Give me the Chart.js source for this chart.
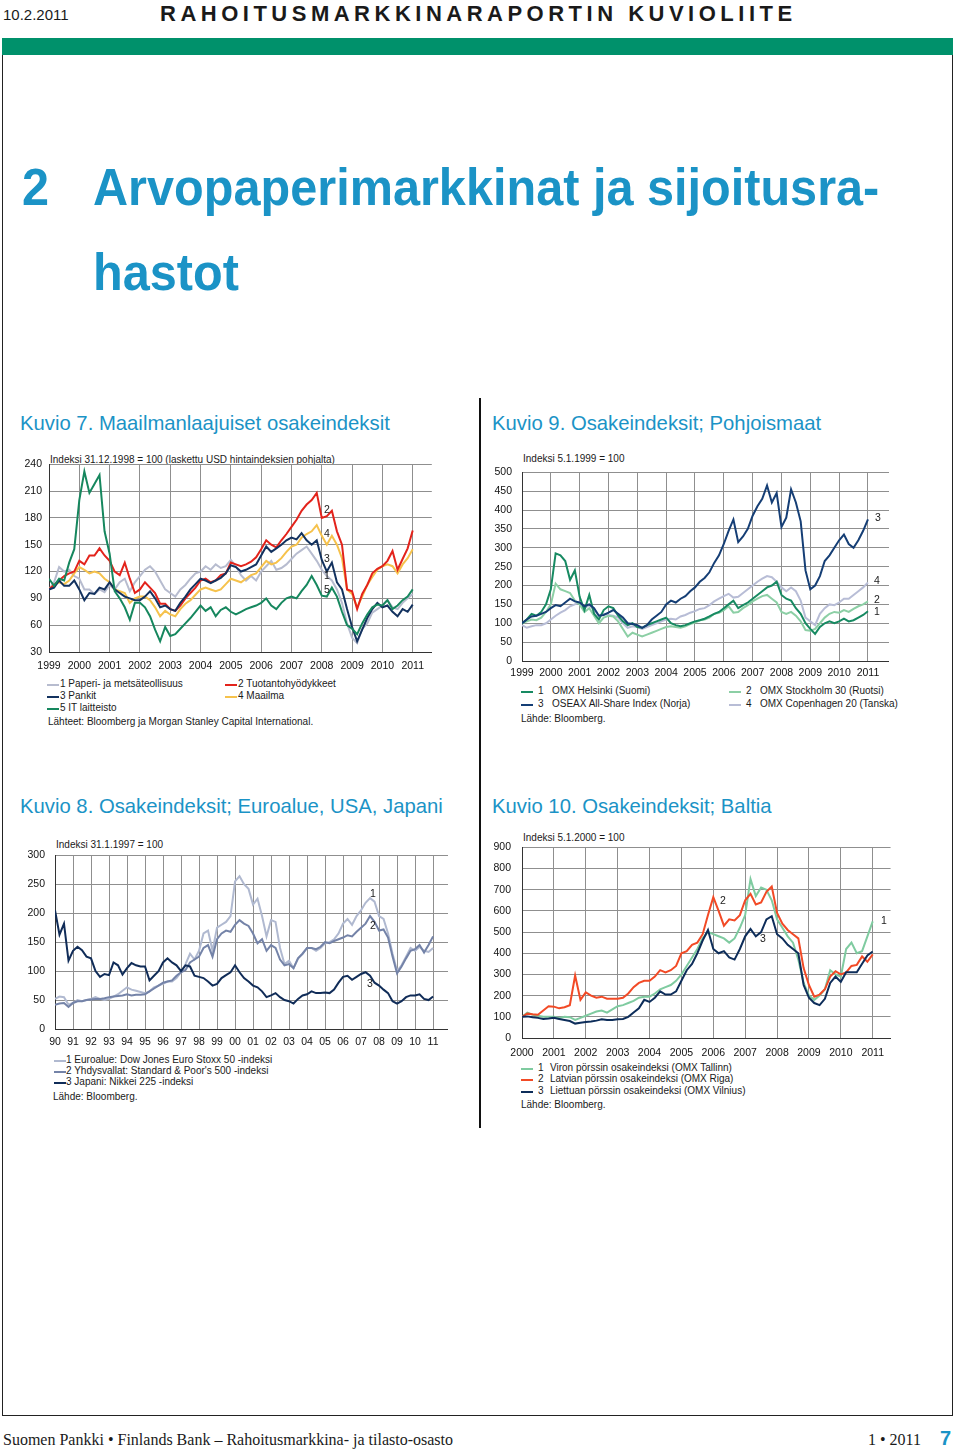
<!DOCTYPE html>
<html lang="fi">
<head>
<meta charset="utf-8">
<title>Rahoitusmarkkinaraportin kuvioliite</title>
<script src="https://cdn.jsdelivr.net/npm/chart.js@4.4.1/dist/chart.umd.min.js"></script>
<style>
  html, body { margin: 0; padding: 0; background: #fff; }
  body { width: 960px; height: 1450px; position: relative; overflow: hidden;
         font-family: 'Liberation Sans', Arial, sans-serif; color: #1a1a1a; }
  .abs { position: absolute; white-space: nowrap; }
  .blue { color: #1b93c6; }
  .head { font-weight: bold; font-size: 52px; line-height: 52px; transform: scaleX(0.935); transform-origin: 0 0; }
  .kuvio { font-size: 20.3px; line-height: 24px; }
  .idx { font-size: 10px; line-height: 12px; }
  .lg { font-size: 10px; line-height: 12px; }
  .sw { position: absolute; width: 12px; height: 2px; }
  .tag { font-size: 10.5px; line-height: 12px; transform: translate(-50%, -50%); }
  canvas { position: absolute; }
</style>
</head>
<body>

<!-- page header -->
<div class="abs" style="left:3px; top:6px; font-size:15px; line-height:18px;">10.2.2011</div>
<div class="abs" style="left:160px; top:2px; font-size:22px; line-height:24px; font-weight:bold; letter-spacing:4.5px;">RAHOITUSMARKKINARAPORTIN KUVIOLIITE</div>
<div class="abs" style="left:2px; top:38px; width:951px; height:17px; background:#00916b;"></div>
<div class="abs" style="left:2px; top:55px; width:949px; height:1360px; border:1px solid #222; border-top:none;"></div>

<div class="abs head blue" style="left:22px; top:161px;">2</div>
<div class="abs head blue" style="left:93px; top:161px;">Arvopaperimarkkinat ja sijoitusra-</div>
<div class="abs head blue" style="left:93px; top:246px;">hastot</div>

<div class="abs" style="left:479px; top:398px; width:2px; height:730px; background:#111;"></div>

<!-- Kuvio 7 -->
<div class="abs kuvio blue" style="left:20px; top:411px;">Kuvio 7. Maailmanlaajuiset osakeindeksit</div>
<div class="abs idx" style="left:50px; top:454px;">Indeksi 31.12.1998 = 100 (laskettu USD hintaindeksien pohjalta)</div>
<canvas id="k7" width="423" height="225" style="left:9px; top:451px;"></canvas>
<div class="abs tag" style="left:327px; top:509px;">2</div>
<div class="abs tag" style="left:327px; top:533px;">4</div>
<div class="abs tag" style="left:327px; top:558px;">3</div>
<div class="abs tag" style="left:327px; top:575px;">1</div>
<div class="abs tag" style="left:327px; top:589px;">5</div>
<div class="sw" style="left:47px; top:684px; background:#b7bccf;"></div>
<div class="abs lg" style="left:60px; top:678px;">1 Paperi- ja metsäteollisuus</div>
<div class="sw" style="left:225px; top:684px; background:#e3231b;"></div>
<div class="abs lg" style="left:238px; top:678px;">2 Tuotantohyödykkeet</div>
<div class="sw" style="left:47px; top:696px; background:#13325f;"></div>
<div class="abs lg" style="left:60px; top:690px;">3 Pankit</div>
<div class="sw" style="left:225px; top:696px; background:#f6c24c;"></div>
<div class="abs lg" style="left:238px; top:690px;">4 Maailma</div>
<div class="sw" style="left:47px; top:708px; background:#16875e;"></div>
<div class="abs lg" style="left:60px; top:702px;">5 IT laitteisto</div>
<div class="abs lg" style="left:48px; top:716px;">Lähteet: Bloomberg ja Morgan Stanley Capital International.</div>

<!-- Kuvio 9 -->
<div class="abs kuvio blue" style="left:492px; top:411px;">Kuvio 9. Osakeindeksit; Pohjoismaat</div>
<div class="abs idx" style="left:523px; top:453px;">Indeksi 5.1.1999 = 100</div>
<canvas id="k9" width="407" height="229" style="left:482px; top:456px;"></canvas>
<div class="abs tag" style="left:878px; top:517px;">3</div>
<div class="abs tag" style="left:877px; top:580px;">4</div>
<div class="abs tag" style="left:877px; top:599px;">2</div>
<div class="abs tag" style="left:877px; top:611px;">1</div>
<div class="sw" style="left:521px; top:691px; background:#178a62;"></div>
<div class="abs lg" style="left:538px; top:685px;">1</div>
<div class="abs lg" style="left:552px; top:685px;">OMX Helsinki (Suomi)</div>
<div class="sw" style="left:729px; top:691px; background:#8ccfa5;"></div>
<div class="abs lg" style="left:746px; top:685px;">2</div>
<div class="abs lg" style="left:760px; top:685px;">OMX Stockholm 30 (Ruotsi)</div>
<div class="sw" style="left:521px; top:704px; background:#153e75;"></div>
<div class="abs lg" style="left:538px; top:698px;">3</div>
<div class="abs lg" style="left:552px; top:698px;">OSEAX All-Share Index (Norja)</div>
<div class="sw" style="left:729px; top:704px; background:#b8bdd6;"></div>
<div class="abs lg" style="left:746px; top:698px;">4</div>
<div class="abs lg" style="left:760px; top:698px;">OMX Copenhagen 20 (Tanska)</div>
<div class="abs lg" style="left:521px; top:713px;">Lähde: Bloomberg.</div>

<!-- Kuvio 8 -->
<div class="abs kuvio blue" style="left:20px; top:794px;">Kuvio 8. Osakeindeksit; Euroalue, USA, Japani</div>
<div class="abs idx" style="left:56px; top:839px;">Indeksi 31.1.1997 = 100</div>
<canvas id="k8" width="433" height="214" style="left:15px; top:839px;"></canvas>
<div class="abs tag" style="left:373px; top:893px;">1</div>
<div class="abs tag" style="left:373px; top:925px;">2</div>
<div class="abs tag" style="left:370px; top:983px;">3</div>
<div class="sw" style="left:54px; top:1060px; background:#b0b9d0;"></div>
<div class="abs lg" style="left:66px; top:1054px;">1 Euroalue: Dow Jones Euro Stoxx 50 -indeksi</div>
<div class="sw" style="left:54px; top:1071px; background:#7483a8;"></div>
<div class="abs lg" style="left:66px; top:1065px;">2 Yhdysvallat: Standard &amp; Poor's 500 -indeksi</div>
<div class="sw" style="left:54px; top:1082px; background:#102c58;"></div>
<div class="abs lg" style="left:66px; top:1076px;">3 Japani: Nikkei 225 -indeksi</div>
<div class="abs lg" style="left:53px; top:1091px;">Lähde: Bloomberg.</div>

<!-- Kuvio 10 -->
<div class="abs kuvio blue" style="left:492px; top:794px;">Kuvio 10. Osakeindeksit; Baltia</div>
<div class="abs idx" style="left:523px; top:832px;">Indeksi 5.1.2000 = 100</div>
<canvas id="k10" width="411" height="232" style="left:482px; top:830px;"></canvas>
<div class="abs tag" style="left:723px; top:900px;">2</div>
<div class="abs tag" style="left:763px; top:938px;">3</div>
<div class="abs tag" style="left:884px; top:920px;">1</div>
<div class="sw" style="left:521px; top:1068px; background:#7fcba0;"></div>
<div class="abs lg" style="left:538px; top:1062px;">1</div>
<div class="abs lg" style="left:550px; top:1062px;">Viron pörssin osakeindeksi (OMX Tallinn)</div>
<div class="sw" style="left:521px; top:1079px; background:#f24a26;"></div>
<div class="abs lg" style="left:538px; top:1073px;">2</div>
<div class="abs lg" style="left:550px; top:1073px;">Latvian pörssin osakeindeksi (OMX Riga)</div>
<div class="sw" style="left:521px; top:1091px; background:#0d2d5a;"></div>
<div class="abs lg" style="left:538px; top:1085px;">3</div>
<div class="abs lg" style="left:550px; top:1085px;">Liettuan pörssin osakeindeksi (OMX Vilnius)</div>
<div class="abs lg" style="left:521px; top:1099px;">Lähde: Bloomberg.</div>

<!-- footer -->
<div class="abs" style="left:3px; top:1431px; font-family:'Liberation Serif', 'Times New Roman', serif; font-size:16px; line-height:18px;">Suomen Pankki • Finlands Bank – Rahoitusmarkkina- ja tilasto-osasto</div>
<div class="abs" style="left:868px; top:1431px; font-family:'Liberation Serif', 'Times New Roman', serif; font-size:16px; line-height:18px;">1 • 2011</div>
<div class="abs blue" style="left:940px; top:1427px; font-size:20px; line-height:22px; font-weight:bold;">7</div>

<script>
// Sampling dates: every two months (bimonthly) or quarterly, as decimal years
function dateGrid(from, to, perYear) {
    const out = [];
    for (let y = from; y <= to; y++) {
        for (let k = 0; k < perYear; k++) {
            if (y === to && k > 0) break;
            out.push(y + k / perYear);
        }
    }
    return out;
}

// ---------- Kuvio 7: Maailmanlaajuiset osakeindeksit ----------
const k7Dates = dateGrid(1999, 2011, 6);
const k7XTicks = [1999, 2000, 2001, 2002, 2003, 2004, 2005, 2006, 2007, 2008, 2009, 2010, 2011];
const k7YTicks = [30, 60, 90, 120, 150, 180, 210, 240];
const k7Paperi = [
    100, 108, 125, 120, 122, 115,
    112, 100, 100, 95, 100, 97,
    105, 100, 108, 112, 98, 108,
    115, 122, 126, 120, 110, 100,
    96, 92, 100, 105, 112, 118,
    120, 126, 122, 128, 124, 126,
    133, 126, 116, 110, 115, 110,
    120, 126, 132, 122, 124, 128,
    134, 140, 144, 148, 140, 132,
    122, 115, 110, 100, 85, 62,
    46, 40, 56, 62, 74, 78,
    82, 88, 80, 78, 85, 90,
    95
];
const k7Tuotanto = [
    100, 105, 110, 115, 118, 120,
    132, 128, 138, 138, 146, 138,
    132, 120, 116, 130, 112, 96,
    100, 108, 102, 96, 84, 84,
    78, 76, 82, 90, 96, 102,
    110, 112, 108, 110, 116, 118,
    130, 128, 126, 128, 131, 136,
    145, 155, 150, 147, 155, 162,
    170, 178, 188, 195, 200, 208,
    180, 182, 188, 165, 150, 100,
    98, 78, 95, 105, 118, 123,
    126, 132, 143, 122, 134, 146,
    166
];
const k7Pankit = [
    100, 102, 110, 104, 104, 110,
    100, 88, 96, 95, 102, 100,
    108, 100, 96, 92, 90, 88,
    88, 92, 98, 90, 80, 82,
    78, 76, 85, 92, 100, 106,
    112, 110, 107, 110, 113, 118,
    127, 125, 120, 122, 125, 128,
    138, 148, 142, 146, 150, 155,
    158, 156, 163, 155, 150, 155,
    133, 120, 130, 108, 100, 78,
    58, 42, 55, 68, 78, 85,
    80, 82, 75, 70, 78, 75,
    83
];
const k7Maailma = [
    100, 105, 108, 106, 110, 118,
    125, 122, 118, 120, 118, 112,
    108, 100, 98, 96, 85, 90,
    92, 92, 88, 80, 70, 76,
    72, 70, 78, 84, 88, 94,
    100, 102, 100, 98, 100, 106,
    112, 110, 108, 112, 116, 118,
    125, 132, 128, 130, 135, 142,
    148, 150, 158, 162, 165, 172,
    160, 150, 160, 150, 135, 100,
    95, 80, 92, 105, 114, 122,
    126, 128, 126, 118, 128, 135,
    145
];
const k7IT = [
    112, 104, 112, 110, 130, 145,
    200, 232, 208, 218, 228, 165,
    140, 98, 90, 80, 66, 85,
    85, 80, 70, 55, 42, 58,
    48, 50, 56, 62, 68, 75,
    82, 76, 80, 70, 77, 80,
    75, 72, 75, 78, 80, 82,
    85, 90, 82, 78, 85, 90,
    92, 90, 98, 105, 115, 105,
    93, 92, 102, 92, 75, 60,
    56, 50, 62, 72, 80, 83,
    82, 88, 78, 82, 88, 92,
    100
];

// ---------- Kuvio 9: Osakeindeksit; Pohjoismaat ----------
const k9Dates = dateGrid(1999, 2011, 6);
const k9XTicks = [1999, 2000, 2001, 2002, 2003, 2004, 2005, 2006, 2007, 2008, 2009, 2010, 2011];
const k9YTicks = [0, 50, 100, 150, 200, 250, 300, 350, 400, 450, 500];
const k9Helsinki = [
    100, 110, 125, 120, 130, 150,
    190, 285, 280, 265, 215, 240,
    170, 135, 175, 125, 110, 135,
    145, 140, 120, 105, 95, 100,
    90, 88, 95, 100, 105, 110,
    115, 100, 95, 92, 95, 100,
    105, 108, 112, 118, 125, 130,
    140, 150, 160, 140, 148, 155,
    165, 175, 185, 195, 200, 210,
    175, 165, 160, 140, 125, 100,
    85, 72, 90, 100, 105, 100,
    105, 112, 105, 108, 115, 122,
    132
];
const k9Stockholm = [
    100, 105, 110, 108, 115, 130,
    150, 205, 190, 185, 180, 160,
    150, 130, 140, 120, 100, 115,
    120, 118, 105, 85, 65, 75,
    70, 65, 70, 75, 80, 85,
    90, 92, 90, 88, 92, 98,
    102, 108, 110, 115, 125, 128,
    135, 145, 128, 130, 140, 148,
    158, 165, 172, 175, 165, 155,
    130, 125, 130, 120, 105, 82,
    80, 85, 100, 115, 125, 130,
    128, 135, 130, 138, 145, 150,
    158
];
const k9Oseax = [
    100, 110, 118, 120, 125, 130,
    140, 148, 145, 155, 165, 158,
    155, 145, 150, 140, 120, 122,
    128, 135, 125, 115, 100, 98,
    95, 88, 95, 110, 120, 130,
    150, 160, 155, 165, 172, 185,
    195, 210, 220, 235, 260, 280,
    310, 345, 375, 315, 330, 350,
    385, 410, 430, 465, 420, 445,
    355, 380, 455, 420, 370, 240,
    190, 200, 225, 265, 280, 300,
    320, 335, 310, 300, 320, 345,
    375
];
const k9Copenhagen = [
    95, 88, 92, 95, 95, 100,
    110, 120, 128, 135, 145, 150,
    155, 140, 148, 135, 120, 125,
    122, 120, 115, 100, 88, 92,
    90, 85, 90, 95, 100, 105,
    110, 112, 110, 118, 122, 128,
    132, 138, 140, 148, 158, 165,
    172, 178, 168, 170, 180, 190,
    200, 210, 218, 225, 222, 210,
    195, 185, 195, 185, 160, 115,
    105, 95, 125, 140, 150, 148,
    155, 165, 165, 175, 185, 195,
    208
];

// ---------- Kuvio 8: Osakeindeksit; Euroalue, USA, Japani ----------
const k8Dates = dateGrid(1990, 2011, 4);
const k8XTicks = [1990, 1991, 1992, 1993, 1994, 1995, 1996, 1997, 1998, 1999, 2000,
                  2001, 2002, 2003, 2004, 2005, 2006, 2007, 2008, 2009, 2010, 2011];
const k8XLabels = ['90', '91', '92', '93', '94', '95', '96', '97', '98', '99', '00',
                   '01', '02', '03', '04', '05', '06', '07', '08', '09', '10', '11'];
const k8YTicks = [0, 50, 100, 150, 200, 250, 300];
const k8Euro = [
    52, 56, 55, 42,
    45, 50, 48, 50,
    52, 55, 52, 50,
    52, 56, 60, 66,
    72, 68, 66, 64,
    62, 65, 72, 75,
    78, 82, 82, 88,
    98, 112, 130, 120,
    135, 165, 170, 135,
    175, 180, 185, 195,
    255, 264, 250, 242,
    215, 225, 195, 160,
    188, 185, 140, 112,
    118, 105, 122, 130,
    140, 140, 135, 140,
    148, 150, 155, 165,
    182, 190, 180, 195,
    205, 218, 226, 220,
    195, 190, 165, 130,
    100, 110, 125, 140,
    135, 142, 135, 133,
    140
];
const k8Usa = [
    42, 44, 45, 38,
    45, 48, 48, 50,
    51, 52, 52, 53,
    55, 56, 57, 58,
    60, 58, 59, 59,
    60, 65, 70, 75,
    80, 82, 84, 92,
    98, 102, 115, 120,
    125, 140, 145, 125,
    155, 165, 170, 168,
    180, 188, 182, 178,
    165, 148, 155, 135,
    145, 140, 120, 110,
    112, 105, 122, 130,
    140, 140, 138, 142,
    150, 148, 152, 155,
    158, 162, 160, 168,
    175, 182, 195, 185,
    170, 172, 158, 125,
    96, 108, 122, 135,
    138, 145, 132, 145,
    160
];
const k8Japani = [
    205, 163, 182, 118,
    135, 142, 136, 125,
    122, 100, 90, 95,
    93, 115, 110, 94,
    105, 114, 110, 108,
    108, 84, 92, 100,
    115, 122, 115, 110,
    100, 110, 108, 92,
    90, 88, 82, 75,
    78, 88, 93, 98,
    110, 98, 88, 82,
    75, 72, 65, 55,
    58, 62, 55, 50,
    48, 44, 52, 58,
    60, 65, 62, 62,
    63, 62, 68, 80,
    90, 92, 85, 90,
    95, 98, 92, 80,
    75, 68, 62, 48,
    44, 48, 55, 58,
    58, 60, 52, 50,
    56
];

// ---------- Kuvio 10: Osakeindeksit; Baltia ----------
const k10Dates = dateGrid(2000, 2011, 6);
const k10XTicks = [2000, 2001, 2002, 2003, 2004, 2005, 2006, 2007, 2008, 2009, 2010, 2011];
const k10YTicks = [0, 100, 200, 300, 400, 500, 600, 700, 800, 900];
const k10Tallinn = [
    100, 120, 110, 105, 100, 100,
    100, 95, 100, 98, 85, 95,
    105, 115, 125, 130, 120, 135,
    150, 155, 165, 175, 190, 195,
    195, 210, 230, 240, 250, 270,
    300, 340, 380, 420, 470, 500,
    490, 480, 470, 450, 470, 520,
    580, 750, 670, 710, 700, 650,
    560, 520, 480, 450, 370, 260,
    200, 180, 200, 230, 320, 300,
    290, 420, 450, 400, 410, 480,
    550
];
const k10Riga = [
    100, 115, 112, 110, 130, 150,
    148, 140, 145, 155, 295, 180,
    215, 200, 190, 195, 185, 185,
    185, 190, 210, 240, 260, 270,
    270, 290, 320, 310, 320, 340,
    400, 410, 440, 450, 490, 580,
    665, 600, 530, 560, 555, 580,
    650, 680, 630, 640, 690, 715,
    590, 540, 510, 490, 470, 330,
    250, 195, 205, 230, 290, 315,
    300, 310, 340, 345, 385, 360,
    395
];
const k10Vilnius = [
    100, 102, 98, 95, 90, 92,
    95, 90, 85, 80, 68, 72,
    75, 78, 82, 88, 85, 85,
    88, 90, 100, 120, 140, 180,
    170, 190, 220, 205, 205, 220,
    270, 320, 350, 400, 460, 510,
    420, 400, 410, 380, 370, 420,
    480, 515, 480, 500, 560, 575,
    490, 470, 440, 420, 400, 250,
    190, 165, 155, 185, 260, 290,
    265, 310, 310, 310, 350, 390,
    408
];

// Shared styling
const tickFont = { family: "'Liberation Sans', Arial, sans-serif", size: 10.5 };
const gridColor = '#8f8f8f';
const axisColor = '#333';

/**
 * Draw one index chart. Series are given bottom-to-top in drawing order.
 */
function drawChart(id, cfg) {
    const datasets = cfg.series.map(s => ({
        data: cfg.dates.map((d, i) => ({ x: d, y: s.values[i] })),
        borderColor: s.color,
        borderWidth: 2,
        pointRadius: 0,
        tension: 0,
        fill: false
    })).reverse(); // dataset 0 is drawn last, so reverse

    return new Chart(document.getElementById(id), {
        type: 'line',
        data: { datasets },
        options: {
            responsive: false,
            animation: false,
            devicePixelRatio: 1,
            layout: { padding: { top: 8, left: 0, right: 0, bottom: 0 } },
            plugins: { legend: { display: false }, tooltip: { enabled: false } },
            scales: {
                x: {
                    type: 'linear',
                    min: cfg.xMin,
                    max: cfg.xMax,
                    afterBuildTicks: s => { s.ticks = cfg.xTicks.map(v => ({ value: v })); },
                    afterFit: s => { s.height = 24; },
                    grid: { color: gridColor, drawTicks: false },
                    border: { color: axisColor },
                    ticks: {
                        font: tickFont, color: '#111', padding: cfg.xPad,
                        maxRotation: 0, autoSkip: false,
                        callback: (v, i) => cfg.xLabels ? cfg.xLabels[i] : String(v)
                    }
                },
                y: {
                    min: cfg.yTicks[0],
                    max: cfg.yTicks[cfg.yTicks.length - 1],
                    afterBuildTicks: s => { s.ticks = cfg.yTicks.map(v => ({ value: v })); },
                    afterFit: s => { s.width = 40; },
                    grid: { color: gridColor, drawTicks: false },
                    border: { color: axisColor },
                    ticks: { font: tickFont, color: '#111', padding: cfg.yPad, autoSkip: false }
                }
            }
        }
    });
}

drawChart('k7', {
    dates: k7Dates, xTicks: k7XTicks, yTicks: k7YTicks,
    xMin: 1999, xMax: 2011.63, xPad: 8, yPad: 7,
    series: [
        { values: k7Paperi, color: '#b7bccf' },
        { values: k7Maailma, color: '#f6c24c' },
        { values: k7Tuotanto, color: '#e3231b' },
        { values: k7Pankit, color: '#13325f' },
        { values: k7IT, color: '#16875e' }
    ]
});

drawChart('k9', {
    dates: k9Dates, xTicks: k9XTicks, yTicks: k9YTicks,
    xMin: 1999, xMax: 2011.73, xPad: 6, yPad: 10,
    series: [
        { values: k9Copenhagen, color: '#b8bdd6' },
        { values: k9Stockholm, color: '#8ccfa5' },
        { values: k9Helsinki, color: '#178a62' },
        { values: k9Oseax, color: '#153e75' }
    ]
});

drawChart('k8', {
    dates: k8Dates, xTicks: k8XTicks, xLabels: k8XLabels, yTicks: k8YTicks,
    xMin: 1990, xMax: 2011.83, xPad: 7, yPad: 10,
    series: [
        { values: k8Euro, color: '#b0b9d0' },
        { values: k8Usa, color: '#7483a8' },
        { values: k8Japani, color: '#102c58' }
    ]
});

drawChart('k10', {
    dates: k10Dates, xTicks: k10XTicks, yTicks: k10YTicks,
    xMin: 2000, xMax: 2011.56, xPad: 9, yPad: 11,
    series: [
        { values: k10Tallinn, color: '#7fcba0' },
        { values: k10Riga, color: '#f24a26' },
        { values: k10Vilnius, color: '#0d2d5a' }
    ]
});
</script>
</body>
</html>
